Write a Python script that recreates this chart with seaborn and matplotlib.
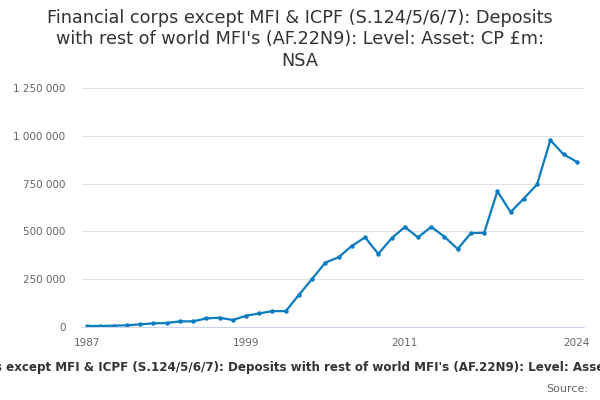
import numpy as np
import pandas as pd
import matplotlib
matplotlib.use("Agg")
import matplotlib.pyplot as plt
import seaborn as sns
from matplotlib.ticker import FuncFormatter, FixedLocator

# ─── Data ───────────────────────────────────────────────────────────────────
years = list(range(1987, 2025))
deposits = [
    5200, 5200, 6900, 8700, 13900, 19100, 20800, 29500, 29500, 45000,
    48600, 36500, 59000, 71000, 83000, 83000, 168000, 252000, 337000, 365000,
    424000, 469000, 382000, 464000, 523000, 469000, 524000, 472000, 408000, 491000,
    493000, 710000, 601000, 672000, 746000, 977000, 903000, 864000,
]
tick_years = [1987, 1990, 1993, 1996, 1999, 2002, 2005, 2008, 2011, 2014, 2017, 2020, 2024]
label_years = [1987, 1999, 2011, 2024]
y_ticks = [0, 250000, 500000, 750000, 1000000, 1250000]

title = ("Financial corps except MFI & ICPF (S.124/5/6/7): Deposits "
         "with rest of world MFI's (AF.22N9): Level: Asset: CP £m: NSA")
title_wrapped = ("Financial corps except MFI & ICPF (S.124/5/6/7): Deposits\n"
                 "with rest of world MFI's (AF.22N9): Level: Asset: CP £m:\n"
                 "NSA")

df = pd.DataFrame({"year": years, "value": deposits})

# ─── Plot ───────────────────────────────────────────────────────────────────
sns.set_style("white")
plt.rcParams["font.family"] = ["DejaVu Sans"]

fig = plt.figure(figsize=(6, 4), dpi=100)
ax = fig.add_axes([0.137, 0.1825, 0.836, 0.5975])

sns.lineplot(data=df, x="year", y="value", ax=ax, color="#0a7bc1",
             linewidth=1.6, marker="o", markersize=3.2, markeredgewidth=0)

ax.set_xlim(1986.62, 2024.53)
ax.set_ylim(0, 1250000)
ax.set_yticks(y_ticks)
ax.yaxis.set_major_formatter(FuncFormatter(lambda v, _: f"{int(v):,}".replace(",", " ")))
ax.xaxis.set_major_locator(FixedLocator(tick_years))
ax.set_xticklabels([str(y) if y in label_years else "" for y in tick_years])

ax.grid(axis="y", color="#e0e0e0", linewidth=0.8)
for s in ["top", "right", "left"]:
    ax.spines[s].set_visible(False)
ax.spines["bottom"].set_color("#ccd6eb")
ax.tick_params(axis="x", length=7, color="#ccd6eb", labelsize=7.5,
               labelcolor="#666666", pad=1)
ax.tick_params(axis="y", length=0, labelsize=7.5, labelcolor="#666666", pad=12)
ax.set_xlabel("")
ax.set_ylabel("")

# title (wrapped like the original) and the clipped axis title below
fig.text(0.5, 0.978, title_wrapped, ha="center", va="top", fontsize=12.7,
         color="#333333", linespacing=1.24)
fig.text(0.499, 0.08, title, ha="center", va="center", fontsize=8.6,
         fontweight="bold", color="#333333")
fig.text(0.98, 0.027, "Source:", ha="right", va="center", fontsize=8,
         color="#666666")

fig.savefig("out.png", dpi=100)
